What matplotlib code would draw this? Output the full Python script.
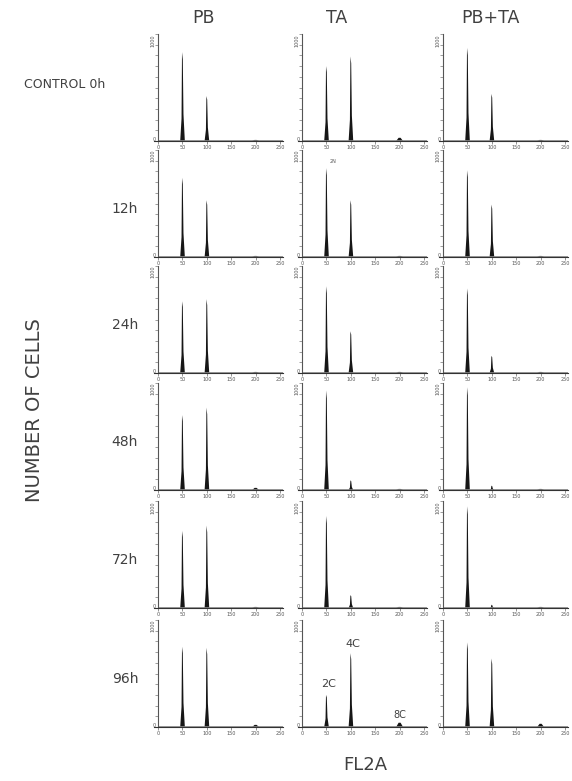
import numpy as np
import matplotlib.pyplot as plt

# data: peak heights (% of full scale) at channels 50 (2C), 100 (4C), 200 (8C)
row_labels = ["CONTROL 0h", "12h", "24h", "48h", "72h", "96h"]
col_labels = ["PB", "TA", "PB+TA"]
peak_channels = [50, 100, 200]
g1 = [[83, 70, 87], [74, 83, 81], [67, 81, 79], [70, 93, 96], [72, 86, 95], [75, 30, 79]]
g2 = [[42, 79, 44], [53, 53, 49], [69, 39, 16], [77, 9, 4], [77, 12, 3], [74, 69, 64]]
g3 = [[1, 3, 1], [1, 1, 1], [1, 1, 1], [2, 1, 1], [1, 1, 1], [2, 4, 3]]
xticks = [0, 50, 100, 150, 200, 250]
ytop_label = "1000"

W, H = 572, 781
fig = plt.figure(figsize=(W / 100, H / 100), dpi=100)

col_left = [158, 302, 443]
row_axis = [141, 257, 373, 490, 608, 727]
ppu = 0.488  # pixels per channel
ph = 107
ink = "#161616"
txt = "#404040"

# peak outline (offsets in channels, fraction of height)
dx = [-4.5, -1.8, -0.8, 0.8, 2.2, 5]
fy = [0, 0.25, 1, 0.92, 0.3, 0]

for r in range(6):
    for c in range(3):
        ax = fig.add_axes([(col_left[c] - 8 * ppu) / W, 1 - row_axis[r] / H, 264 * ppu / W, ph / H])
        ax.set_xlim(-8, 256)
        ax.set_ylim(0, 100)
        for pos, h in zip(peak_channels, [g1[r][c], g2[r][c], g3[r][c]]):
            if pos == 200:
                ax.fill([pos - 7, pos - 2, pos + 2, pos + 7], [0, h, h, 0], color=ink, lw=0)
            else:
                ax.fill([pos + d for d in dx], [h * f for f in fy], color=ink, lw=0)
        ax.plot([0, 256], [0.6, 0.6], color="#888888", lw=0.6)
        ax.spines["top"].set_visible(False)
        ax.spines["right"].set_visible(False)
        ax.spines["left"].set_position(("data", 0))
        ax.spines["left"].set_color("#555555")
        ax.spines["bottom"].set_color("#333333")
        ax.spines["left"].set_linewidth(0.8)
        ax.spines["bottom"].set_linewidth(0.8)
        ax.set_xticks(xticks)
        ax.set_xticklabels([str(t) for t in xticks], fontsize=3.5, color="#555555")
        ax.tick_params(axis="x", length=2, width=0.5, pad=1, color="#666666")
        ax.set_yticks(np.arange(0, 101, 10))
        ax.set_yticklabels([])
        ax.tick_params(axis="y", length=2, width=0.5, color="#777777")
        ax.text(-5, 100, ytop_label, rotation=90, fontsize=3.5, color="#555555", ha="right", va="top")
        ax.text(-5, 1, "0", fontsize=3.5, color="#555555", ha="right", va="center")
        ax.patch.set_alpha(0)

# small peak labels
ax_ta12 = fig.axes[1 * 3 + 1]
ax_ta12.text(63, 88, "2N", fontsize=3.5, color="#555555", ha="center")
ax_ta96 = fig.axes[5 * 3 + 1]
ax_ta96.text(55, 37, "2C", fontsize=8, color=txt, ha="center")
ax_ta96.text(105, 75, "4C", fontsize=8, color=txt, ha="center")
ax_ta96.text(200, 8, "8C", fontsize=7, color=txt, ha="center")

# column headers
header_x = [203, 337, 490]
for c, lab in enumerate(col_labels):
    fig.text(header_x[c] / W, 1 - 18 / H, lab, fontsize=12.5, color=txt, ha="center", va="center")

# row labels
for r, lab in enumerate(row_labels):
    if r == 0:
        fig.text(65 / W, 1 - 85 / H, lab, fontsize=9, color=txt, ha="center", va="center")
    else:
        fig.text(125 / W, 1 - (row_axis[r] - 48) / H, lab, fontsize=10, color=txt, ha="center", va="center")

fig.text(35 / W, 1 - 410 / H, "NUMBER OF CELLS", fontsize=14, color=txt, rotation=90, ha="center", va="center")
fig.text(365 / W, 1 - 765 / H, "FL2A", fontsize=13, color=txt, ha="center", va="center")

fig.savefig("out.png", dpi=100)
